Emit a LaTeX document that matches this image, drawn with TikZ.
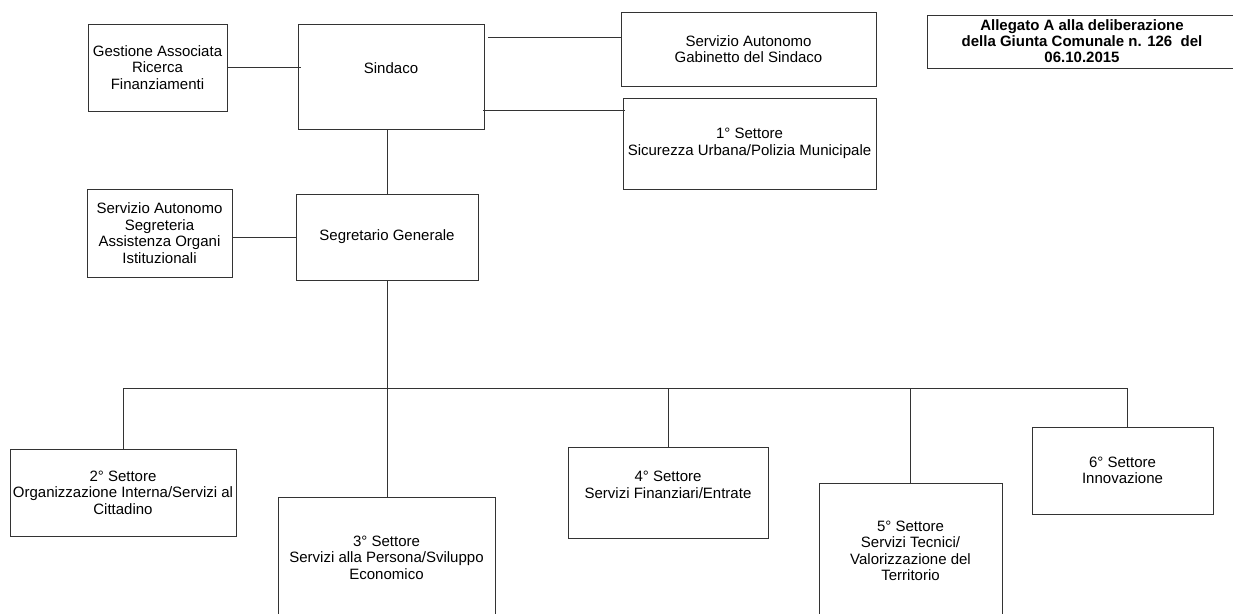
\documentclass[tikz,border=0pt]{standalone}
\usepackage{fontspec}
\setmainfont{Liberation Sans}
\usetikzlibrary{calc}
\begin{document}
\begin{tikzpicture}[x=1pt,y=-1pt,
  box/.style={draw=black!80, line width=1pt, inner sep=0pt, align=center, font=\fontsize{15}{16.5}\selectfont},
  txt/.style={inner sep=0pt, align=center, font=\fontsize{15}{16.5}\selectfont},
  conn/.style={draw=black!80, line width=1pt}]
\useasboundingbox (0,0) rectangle (1233,613);
\clip (0,0) rectangle (1233,613);
% top row
\node[box, minimum width=139pt, minimum height=87pt] (gest) at (157.5,67.5) {Gestione Associata\\Ricerca\\Finanziamenti};
\node[box, minimum width=186pt, minimum height=105pt] (sind) at (391,76.5) {};
\node[txt] (sindt) at (391,68) {Sindaco};
\node[box, minimum width=255pt, minimum height=74pt] (gab) at (748.5,49) {Servizio Autonomo\\Gabinetto del Sindaco};
\node[box, minimum width=253pt, minimum height=91pt] (set1) at (749.5,143.5) {1° Settore\\Sicurezza Urbana/Polizia Municipale};
\node[box, minimum width=320pt, minimum height=53pt] (alleg) at (1087,41.5) {};
\node[txt, font=\fontsize{15}{16}\selectfont\bfseries] (allegt) at (1082,41.5) {Allegato A alla deliberazione\\della Giunta Comunale n. 126\ \ del\\06.10.2015};
% second row
\node[box, minimum width=145pt, minimum height=88pt] (segr) at (159.5,233) {Servizio Autonomo\\Segreteria\\Assistenza Organi\\Istituzionali};
\node[box, minimum width=182pt, minimum height=86pt] (segg) at (387,237) {Segretario Generale};
% sectors
\node[box, minimum width=226pt, minimum height=87pt] (b2) at (123,492.5) {2° Settore\\Organizzazione Interna/Servizi al\\Cittadino};
\node[box, minimum width=217pt, minimum height=143pt] (b3) at (387,568.5) {};
\node[txt] (b3t) at (386.5,557.5) {3° Settore\\Servizi alla Persona/Sviluppo\\Economico};
\node[box, minimum width=200pt, minimum height=91pt] (b4) at (668,492.5) {};
\node[txt] (b4t) at (668,485) {4° Settore\\Servizi Finanziari/Entrate};
\node[box, minimum width=183pt, minimum height=157pt] (b5) at (910.5,561.5) {};
\node[txt] (b5t) at (910.5,551) {5° Settore\\Servizi Tecnici/\\Valorizzazione del\\Territorio};
\node[box, minimum width=181pt, minimum height=87pt] (b6) at (1122.5,470.5) {6° Settore\\Innovazione};
% connectors
\draw[conn] (gest.east) -- ($(sind.west|-gest.east)+(3,0)$);
\coordinate (g1) at ($(gab.north west)+(0,26)$);
\draw[conn] (g1) -- ($(sind.east|-g1)+(3,0)$);
\coordinate (s1) at ($(set1.north west)+(2,13)$);
\draw[conn] (s1) -- ($(sind.east|-s1)+(-2,0)$);
\draw[conn] (segg.north) -- (segg.north|-sind.south);
\draw[conn] (segr.east|-segg.west) -- (segg.west);
\path (segg.south) ++(0,108) coordinate (busC);
\coordinate (d6) at ($(b6.north)+(4.5,0)$);
\draw[conn] (segg.south) -- (b3.north);
\draw[conn] (b2.north) |- (busC) -| (d6);
\draw[conn] (b4.north) -- (b4.north|-busC);
\draw[conn] (b5.north) -- (b5.north|-busC);
\end{tikzpicture}
\end{document}
